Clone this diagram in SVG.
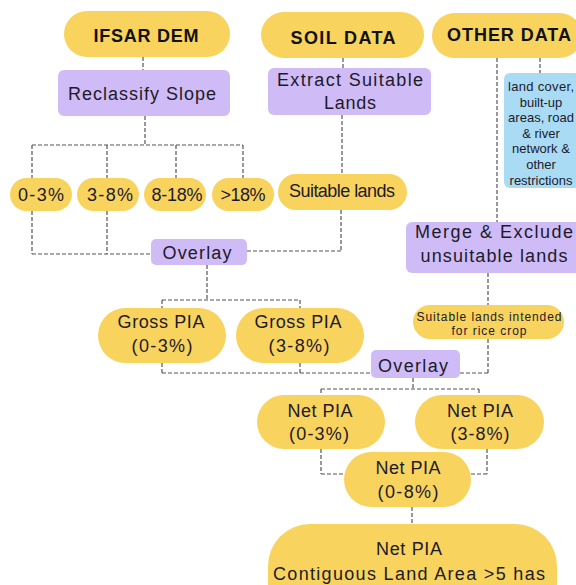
<svg xmlns="http://www.w3.org/2000/svg" width="576" height="585" viewBox="0 0 576 585">
<style>
.y{fill:#f8d35e}
.p{fill:#cfbcf7}
.b{fill:#a9dbf4}
.t{font-family:"Liberation Sans",Arial,sans-serif;font-size:18px;fill:#1d1a2a;text-anchor:middle}
.h{font-weight:bold;font-size:18px;fill:#111}
.s{font-size:13px}
.r{font-size:12px}
.c line{stroke:#555;stroke-width:1.2;stroke-dasharray:4 2;fill:none}
</style>
<rect width="576" height="585" fill="#fff"/>
<g class="c" id="connectors">
<line x1="143" y1="57" x2="143" y2="70"/>
<line x1="145" y1="116" x2="145" y2="145"/>
<line x1="32" y1="145" x2="243" y2="145"/>
<line x1="32" y1="145" x2="32" y2="178"/>
<line x1="107" y1="145" x2="107" y2="178"/>
<line x1="176" y1="145" x2="176" y2="178"/>
<line x1="243" y1="145" x2="243" y2="178"/>
<line x1="343" y1="58" x2="343" y2="68"/>
<line x1="342" y1="115" x2="342" y2="174"/>
<line x1="32" y1="211" x2="32" y2="254"/>
<line x1="107" y1="211" x2="107" y2="254"/>
<line x1="32" y1="254" x2="151" y2="254"/>
<line x1="247" y1="251" x2="341" y2="251"/>
<line x1="341" y1="210" x2="341" y2="251"/>
<line x1="207" y1="265" x2="207" y2="300"/>
<line x1="162" y1="300" x2="300" y2="300"/>
<line x1="162" y1="300" x2="162" y2="308"/>
<line x1="300" y1="300" x2="300" y2="308"/>
<line x1="497" y1="58" x2="497" y2="222"/>
<line x1="540" y1="58" x2="540" y2="73"/>
<line x1="488" y1="273" x2="488" y2="305"/>
<line x1="488" y1="339" x2="488" y2="373"/>
<line x1="460" y1="373" x2="488" y2="373"/>
<line x1="162" y1="363" x2="162" y2="373"/>
<line x1="300" y1="363" x2="300" y2="373"/>
<line x1="162" y1="373" x2="371" y2="373"/>
<line x1="413" y1="378" x2="413" y2="389"/>
<line x1="321" y1="389" x2="479" y2="389"/>
<line x1="321" y1="389" x2="321" y2="395"/>
<line x1="479" y1="389" x2="479" y2="395"/>
<line x1="321" y1="449" x2="321" y2="474"/>
<line x1="321" y1="474" x2="344" y2="474"/>
<line x1="487" y1="449" x2="487" y2="474"/>
<line x1="471" y1="474" x2="487" y2="474"/>
<line x1="412" y1="507" x2="412" y2="524"/>
</g>
<g id="ifsar"><rect class="y" x="64" y="11" width="166" height="46" rx="23"/><text class="t h" x="146" y="41.5" textLength="105">IFSAR DEM</text></g>
<g id="soil"><rect class="y" x="261" y="12" width="163" height="46" rx="23"/><text class="t h" x="343" y="44" textLength="105">SOIL DATA</text></g>
<g id="other"><rect class="y" x="432" y="13" width="150" height="45" rx="22.5"/><text class="t h" x="509" y="41" textLength="124">OTHER DATA</text></g>
<g id="reclassify"><rect class="p" x="58" y="70" width="172" height="46" rx="6"/><text class="t" x="142" y="100" textLength="148">Reclassify Slope</text></g>
<g id="extract"><rect class="p" x="268" y="68" width="163" height="47" rx="6"/><text class="t" x="350" y="86" textLength="146">Extract Suitable</text><text class="t" x="350" y="109" textLength="52">Lands</text></g>
<g id="landcover"><rect class="b" x="504" y="73" width="76" height="115" rx="6"/>
<text class="t s" x="541" y="91" textLength="66">land cover,</text>
<text class="t s" x="541" y="107">built-up</text>
<text class="t s" x="541" y="122">areas, road</text>
<text class="t s" x="541" y="138">&amp; river</text>
<text class="t s" x="541" y="153">network &amp;</text>
<text class="t s" x="541" y="169">other</text>
<text class="t s" x="541" y="185">restrictions</text></g>
<g id="s03"><rect class="y" x="10" y="178" width="62" height="33" rx="16.5"/><text class="t" x="41" y="201" textLength="46">0-3%</text></g>
<g id="s38"><rect class="y" x="77" y="178" width="62" height="33" rx="16.5"/><text class="t" x="110" y="201" textLength="46">3-8%</text></g>
<g id="s818"><rect class="y" x="144" y="178" width="62" height="33" rx="16.5"/><text class="t" x="177" y="201" textLength="51">8-18%</text></g>
<g id="s18"><rect class="y" x="212" y="178" width="62" height="33" rx="16.5"/><text class="t" x="243" y="201" textLength="45">&gt;18%</text></g>
<g id="suitable"><rect class="y" x="278" y="174" width="129" height="36" rx="18"/><text class="t" x="342" y="197" font-size="16" textLength="106">Suitable lands</text></g>
<g id="merge"><rect class="p" x="406" y="222" width="176" height="51" rx="6"/><text class="t" x="494" y="238" textLength="158">Merge &amp; Exclude</text><text class="t" x="494" y="262" textLength="147">unsuitable lands</text></g>
<g id="overlay1"><rect class="p" x="151" y="239" width="96" height="26" rx="5"/><text class="t" x="197" y="259" textLength="69">Overlay</text></g>
<g id="gross03"><rect class="y" x="98" y="308" width="128" height="55" rx="27.5"/><text class="t" x="161" y="328" textLength="87">Gross PIA</text><text class="t" x="162" y="352" textLength="61">(0-3%)</text></g>
<g id="gross38"><rect class="y" x="236" y="308" width="128" height="55" rx="27.5"/><text class="t" x="298" y="328" textLength="87">Gross PIA</text><text class="t" x="299" y="352" textLength="61">(3-8%)</text></g>
<g id="rice"><rect class="y" x="413" y="305" width="151" height="34" rx="17"/><text class="t r" x="489" y="320.5" textLength="145">Suitable lands intended</text><text class="t r" x="489" y="335" textLength="75">for rice crop</text></g>
<g id="overlay2"><rect class="p" x="371" y="350" width="89" height="28" rx="5"/><text class="t" x="413" y="372" textLength="70">Overlay</text></g>
<g id="net03"><rect class="y" x="257" y="395" width="128" height="54" rx="27"/><text class="t" x="320" y="417" textLength="65">Net PIA</text><text class="t" x="319" y="440" textLength="60">(0-3%)</text></g>
<g id="net38"><rect class="y" x="415" y="395" width="129" height="54" rx="27"/><text class="t" x="480" y="417" textLength="66">Net PIA</text><text class="t" x="480" y="440" textLength="59">(3-8%)</text></g>
<g id="net08"><rect class="y" x="344" y="452" width="127" height="55" rx="27.5"/><text class="t" x="408" y="474" textLength="65">Net PIA</text><text class="t" x="408" y="498" textLength="61">(0-8%)</text></g>
<g id="final"><rect class="y" x="268" y="524" width="289" height="100" rx="42"/><text class="t" x="409" y="555" textLength="66">Net PIA</text><text class="t" x="409" y="580" textLength="272">Contiguous Land Area &gt;5 has</text></g>
</svg>
